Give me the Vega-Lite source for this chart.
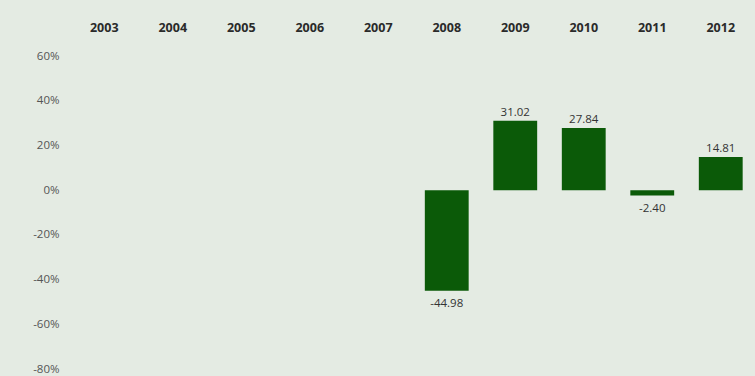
{
  "$schema": "https://vega.github.io/schema/vega-lite/v6.json",
  "autosize": "none",
  "width": 685,
  "height": 313,
  "padding": {"left": 70, "top": 56, "right": 0, "bottom": 7},
  "background": "#e4ebe3",
  "config": {"view": {"stroke": null}, "font": "Open Sans",
    "locale": {"number": {"decimal": ".", "thousands": ",", "grouping": [3], "currency": ["$", ""], "minus": "-"}}},
  "data": {"values": [
    {"year": "2003", "value": null},
    {"year": "2004", "value": null},
    {"year": "2005", "value": null},
    {"year": "2006", "value": null},
    {"year": "2007", "value": null},
    {"year": "2008", "value": -44.98},
    {"year": "2009", "value": 31.02},
    {"year": "2010", "value": 27.84},
    {"year": "2011", "value": -2.40},
    {"year": "2012", "value": 14.81}
  ]},
  "encoding": {
    "x": {"field": "year", "type": "nominal", "sort": null,
      "scale": {"domain": ["2003", "2004", "2005", "2006", "2007", "2008", "2009", "2010", "2011", "2012"], "paddingInner": 0.36, "paddingOuter": 0.18},
      "axis": {"orient": "top", "title": null, "domain": false, "ticks": false, "labelAngle": 0,
        "labelPadding": 22, "labelFontSize": 12.5, "labelFontWeight": "bold", "labelColor": "#2a2a2a"}},
    "y": {"field": "value", "type": "quantitative",
      "scale": {"domain": [-80, 60], "nice": false, "zero": true},
      "axis": {"title": null, "domain": false, "ticks": false, "grid": false,
        "values": [-80, -60, -40, -20, 0, 20, 40, 60],
        "labelExpr": "datum.value + '%'", "labelPadding": 11, "labelFontSize": 11.5, "labelColor": "#555555"}}
  },
  "layer": [
    {"mark": {"type": "bar", "color": "#0b5a08"}},
    {"transform": [{"filter": "datum.value != null && datum.value >= 0"}],
      "mark": {"type": "text", "baseline": "bottom", "dy": -3, "fontSize": 11.5, "color": "#333333"},
      "encoding": {"text": {"field": "value", "type": "quantitative", "format": ".2f"}}},
    {"transform": [{"filter": "datum.value != null && datum.value < 0"}],
      "mark": {"type": "text", "baseline": "top", "dy": 7, "fontSize": 11.5, "color": "#333333"},
      "encoding": {"text": {"field": "value", "type": "quantitative", "format": ".2f"}}}
  ]
}
